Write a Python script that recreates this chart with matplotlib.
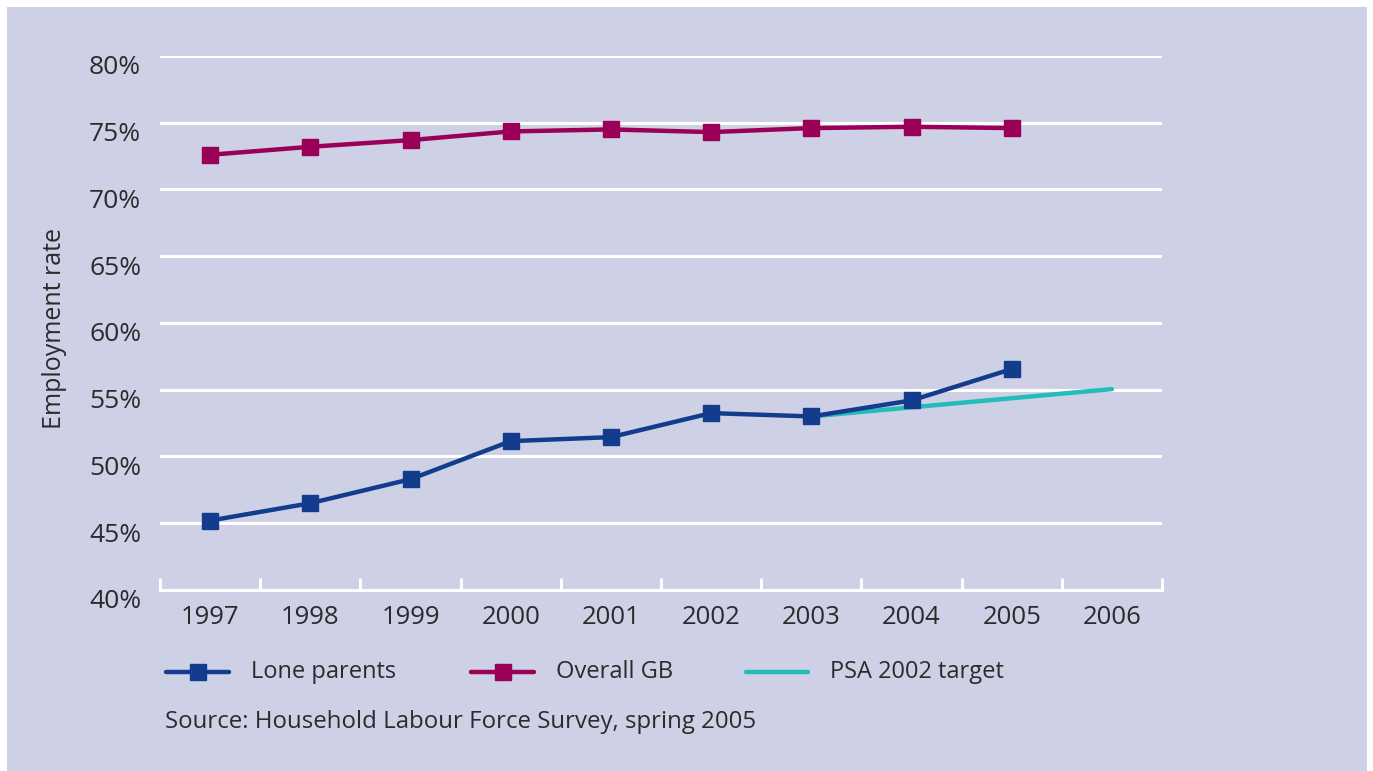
import matplotlib
matplotlib.use("Agg")
import matplotlib.pyplot as plt
from matplotlib.patches import Rectangle
from matplotlib.lines import Line2D
from matplotlib.transforms import ScaledTranslation

# Employment rates (%)
years = [1997, 1998, 1999, 2000, 2001, 2002, 2003, 2004, 2005, 2006]
lone_parents = [45.2, 46.5, 48.3, 51.15, 51.45, 53.25, 53.0, 54.2, 56.55]
overall_gb = [72.6, 73.2, 73.7, 74.35, 74.5, 74.3, 74.6, 74.7, 74.6]
psa_years = [2003, 2006]
psa_target = [53.0, 55.05]
y_ticks = [40, 45, 50, 55, 60, 65, 70, 75, 80]

BG = "#ced0e6"
BLUE = "#143c8c"
MAGENTA = "#9a0058"
TEAL = "#22bdb8"
TEXT = "#2b2b2b"
FONT = "Open Sans"

plt.rcParams["font.family"] = [FONT, "DejaVu Sans"]

fig = plt.figure(figsize=(13.73, 7.71), dpi=100)
fig.patch.set_facecolor("white")
W, H = 1373, 771
fig.patches.append(Rectangle((7 / W, 0), 1360 / W, 764 / H, transform=fig.transFigure,
                             facecolor=BG, edgecolor="none", zorder=-10))

ax = fig.add_axes([160 / W, 1 - 590 / H, 1002 / W, 534 / H])
ax.set_zorder(1)
ax.set_facecolor("none")
ax.set_xlim(1996.5, 2006.5)
ax.set_ylim(40, 80)

for s in ["top", "right", "left"]:
    ax.spines[s].set_visible(False)
ax.spines["bottom"].set_color("white")
ax.spines["bottom"].set_linewidth(2.2)

ax.set_yticks(y_ticks)
ax.set_yticklabels([f"{v}%" for v in y_ticks])
ax.yaxis.grid(True, color="white", linewidth=2.2)
ax.set_axisbelow(True)
ax.tick_params(axis="y", length=0, pad=13.5, labelsize=19, labelcolor=TEXT)
# percentage labels sit slightly below their gridlines
shift = ScaledTranslation(0, -9 / 100, fig.dpi_scale_trans)
for lbl in ax.get_yticklabels():
    lbl.set_transform(lbl.get_transform() + shift)

ax.set_xticks(years)
ax.set_xticklabels([str(y) for y in years])
ax.tick_params(axis="x", which="major", length=0, pad=11, labelsize=18.5, labelcolor=TEXT)
ax.set_xticks([y + 0.5 for y in [1996] + years], minor=True)
ax.tick_params(axis="x", which="minor", direction="in", length=9, width=2.2, color="white")

ax.set_ylabel("Employment rate", fontsize=18, color=TEXT)
ax.yaxis.set_label_coords(-93 / 1002, 0.49)

ax.plot(psa_years, psa_target, color=TEAL, linewidth=3.2, solid_capstyle="round", zorder=3)
ax.plot(years[:len(lone_parents)], lone_parents, color=BLUE, linewidth=3.2,
        marker="s", markersize=12, zorder=4)
ax.plot(years[:len(overall_gb)], overall_gb, color=MAGENTA, linewidth=3.2,
        marker="s", markersize=12, zorder=4)

# Legend row
def legend_item(x0, x1, color, label, marker):
    yf = 1 - 672 / H
    fig.add_artist(Line2D([x0 / W, x1 / W], [yf, yf], transform=fig.transFigure,
                          color=color, linewidth=3.2, solid_capstyle="round"))
    if marker:
        fig.add_artist(Line2D([(x0 + x1) / 2 / W], [yf], transform=fig.transFigure,
                              color=color, marker="s", markersize=12, linestyle="none"))
    fig.text((x1 + 22) / W, yf, label, fontsize=17, color=TEXT, va="center", ha="left")

legend_item(166, 229, BLUE, "Lone parents", True)
legend_item(471, 534, MAGENTA, "Overall GB", True)
legend_item(746, 808, TEAL, "PSA 2002 target", False)

fig.text(165 / W, 1 - 722 / H, "Source: Household Labour Force Survey, spring 2005",
         fontsize=17.3, color=TEXT, va="center", ha="left")

fig.savefig("out.png", dpi=100, facecolor=fig.get_facecolor())
